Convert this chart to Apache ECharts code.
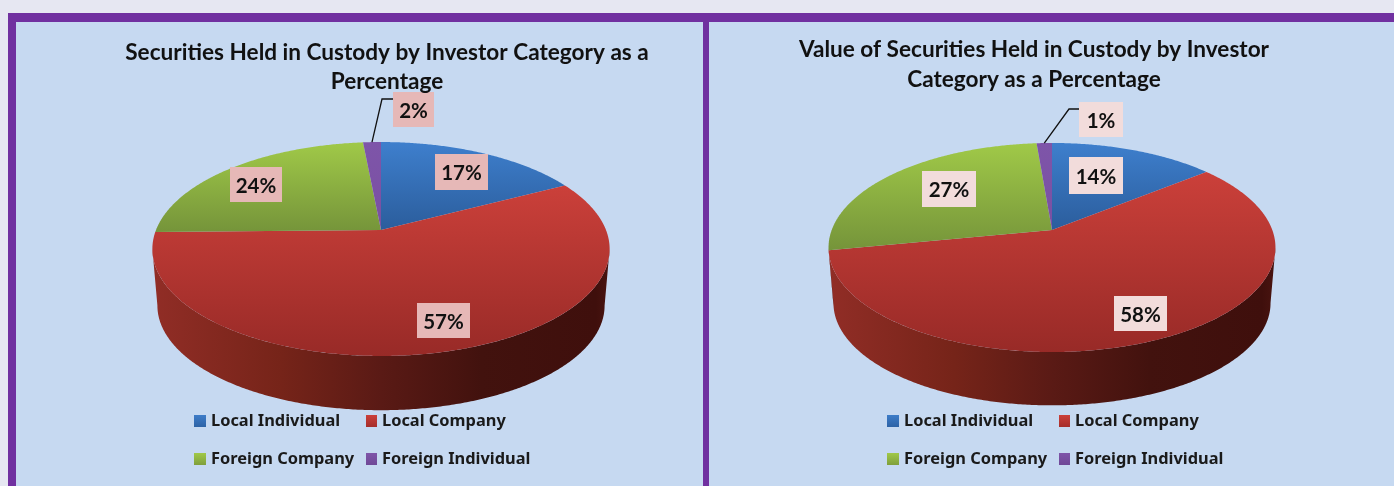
<!DOCTYPE html>
<html>
<head>
<meta charset="utf-8">
<style>
html,body{margin:0;padding:0;background:#e6e7f2;overflow:hidden}
#chart{width:1394px;height:486px;filter:blur(0.5px)}
</style>
<script src="https://cdn.jsdelivr.net/npm/echarts@6/dist/echarts.min.js"></script>
</head>
<body>
<div id="chart"></div>
<script>
// ---- data ----
const categories = ['Local Individual', 'Local Company', 'Foreign Company', 'Foreign Individual'];
const countShare = [17.3, 57.4, 23.8, 1.5];
const valueShare = [14.1, 57.8, 26.8, 1.3];
const countTitle = 'Securities Held in Custody by Investor Category as a\nPercentage';
const valueTitle = 'Value of Securities Held in Custody by Investor\nCategory as a Percentage';
const topColors = ['#3e7fcd', '#cb403a', '#a0c948', '#7e55a9'];
const lowColors = ['#2b5d9c', '#982a27', '#75943a', '#7a50a2'];
const legendTop = ['#3d7cc8', '#cb403a', '#a0c948', '#7e55a9'];
const legendLow = ['#2d63a6', '#a52e2b', '#7f9f3c', '#6f4897'];

// ---- layout ----
const FONT = 'Lato';
const layouts = [
  { values: countShare, title: countTitle, titleX: 387, titleTop: 38, lineH: 29, cx: 381, cy: 230, rx: 225, ry: 103.6, k: 0.1776,
    depth: 57, shrink: 0.978, boxColor: '#e6b8b7',
    boxes: [[435,154,53,36],[417,303,53,35],[230,167,52,35],[393,92,41,35]],
    leader: [[382,99],[393,99]], dx: 0 },
  { values: valueShare, title: valueTitle, titleX: 1034, titleTop: 35, lineH: 29.5, cx: 1052, cy: 230, rx: 220.3, ry: 101.6, k: 0.1675,
    depth: 56, shrink: 0.978, boxColor: '#f2dcdb',
    boxes: [[1069,157,54,37],[1114,296,53,35],[922,171,54,36],[1079,102,44,35]],
    leader: [[1069,109],[1079,109]], dx: 693 }
];

function project(p, theta, s, dy) {
  const x = Math.sin(theta), y = Math.cos(theta), w = 1 + p.k * y;
  return [p.cx + s * p.rx * x / w, p.cy + dy - s * p.ry * y / w];
}
function angleRange(a, b) {
  const pts = [], n = Math.max(2, Math.ceil((b - a) / (Math.PI / 360)));
  for (let i = 0; i <= n; i++) pts.push(a + (b - a) * i / n);
  return pts;
}

function makeRender(p, idx) {
  return function (params, api) {
    const v = api.value(0);
    const before = p.values.slice(0, idx).reduce((s, d) => s + d, 0);
    const a0 = before / 100 * 2 * Math.PI;
    const a1 = (before + v) / 100 * 2 * Math.PI;
    const children = [];
    // side wall: only between the two rim points where the projected ellipse is widest
    const edge = Math.PI / 2 + Math.asin(p.k);
    const fa = Math.max(a0, edge), fb = Math.min(a1, 2 * Math.PI - edge);
    if (fb > fa) {
      const ts = angleRange(fa, fb);
      const up = ts.map(t => project(p, t, 1, 0));
      const dn = ts.map(t => project(p, t, p.shrink, p.depth)).reverse();
      children.push({
        type: 'polygon', z2: 1, shape: { points: up.concat(dn) },
        style: { fill: new echarts.graphic.LinearGradient(0, 0, 1, 0, [
          { offset: 0, color: '#912d26' }, { offset: 0.28, color: '#762419' },
          { offset: 0.5, color: '#5a1a15' }, { offset: 0.72, color: '#42120e' },
          { offset: 0.97, color: '#3f0f0c' }, { offset: 1, color: '#4a1410' }
        ]) }
      });
    }
    // top face
    const rim = angleRange(a0, a1).map(t => project(p, t, 1, 0));
    children.push({
      type: 'polygon', z2: 10, shape: { points: [[p.cx, p.cy]].concat(rim) },
      style: { fill: new echarts.graphic.LinearGradient(0, 0, 0, 1, [
        { offset: 0, color: topColors[idx] }, { offset: 1, color: lowColors[idx] }
      ]) }
    });
    // label box and text
    const b = p.boxes[idx];
    if (p.leader && idx === categories.length - 1) {
      const start = project(p, (a0 + a1) / 2, 1, 0);
      children.push({
        type: 'polyline', z2: 90, shape: { points: [start].concat(p.leader) },
        style: { fill: null, stroke: '#111', lineWidth: 1.3 }
      });
    }
    children.push({
      type: 'rect', z2: 100, shape: { x: b[0], y: b[1], width: b[2], height: b[3] },
      style: { fill: p.boxColor }
    });
    children.push({
      type: 'text', z2: 101,
      style: {
        x: b[0] + b[2] / 2, y: b[1] + b[3] / 2 + 1.5, text: Math.round(v) + '%',
        align: 'center', verticalAlign: 'middle', fill: '#111',
        font: 'bold 20.5px ' + FONT
      }
    });
    return { type: 'group', children };
  };
}

const series = [];
const legends = [];
const titles = [];
layouts.forEach(p => {
  titles.push({
    text: p.title, left: p.titleX, top: p.titleTop, textAlign: 'center', padding: 0,
    textStyle: { fontFamily: FONT, fontWeight: 'bold', fontSize: 22.6, lineHeight: p.lineH, color: '#111' }
  });
  categories.forEach((name, i) => {
    series.push({
      type: 'custom', name, coordinateSystem: 'none', silent: true, animation: false,
      data: [[p.values[i]]], renderItem: makeRender(p, i)
    });
    const col = i % 2, row = i >> 1;
    legends.push({
      data: [{ name, icon: 'rect', itemStyle: { color: new echarts.graphic.LinearGradient(0, 0, 0, 1, [
        { offset: 0, color: legendTop[i] }, { offset: 1, color: legendLow[i] }
      ]) } }],
      left: (col ? 366 : 194) + p.dx, top: (row ? 451 : 413),
      itemWidth: col ? 11 : 12, itemHeight: 12, padding: 0, itemGap: 0, selectedMode: false,
      textStyle: { fontFamily: 'Noto Sans', fontWeight: 'bold', fontSize: 16.4, color: '#1a1a1a', padding: [0, 0, 4, 0] }
    });
  });
});

const chart = echarts.init(document.getElementById('chart'), null, { renderer: 'canvas' });
chart.setOption({
  animation: false,
  backgroundColor: '#e6e7f2',
  title: titles,
  legend: legends,
  graphic: [
    { type: 'rect', z: -10, silent: true, shape: { x: 8, y: 13, width: 1386, height: 473 }, style: { fill: '#7030a0' } },
    { type: 'rect', z: -9, silent: true, shape: { x: 16, y: 22, width: 687, height: 464 }, style: { fill: '#c6d9f1' } },
    { type: 'rect', z: -9, silent: true, shape: { x: 709, y: 22, width: 685, height: 464 }, style: { fill: '#c6d9f1' } }
  ],
  series
});
</script>
</body>
</html>
